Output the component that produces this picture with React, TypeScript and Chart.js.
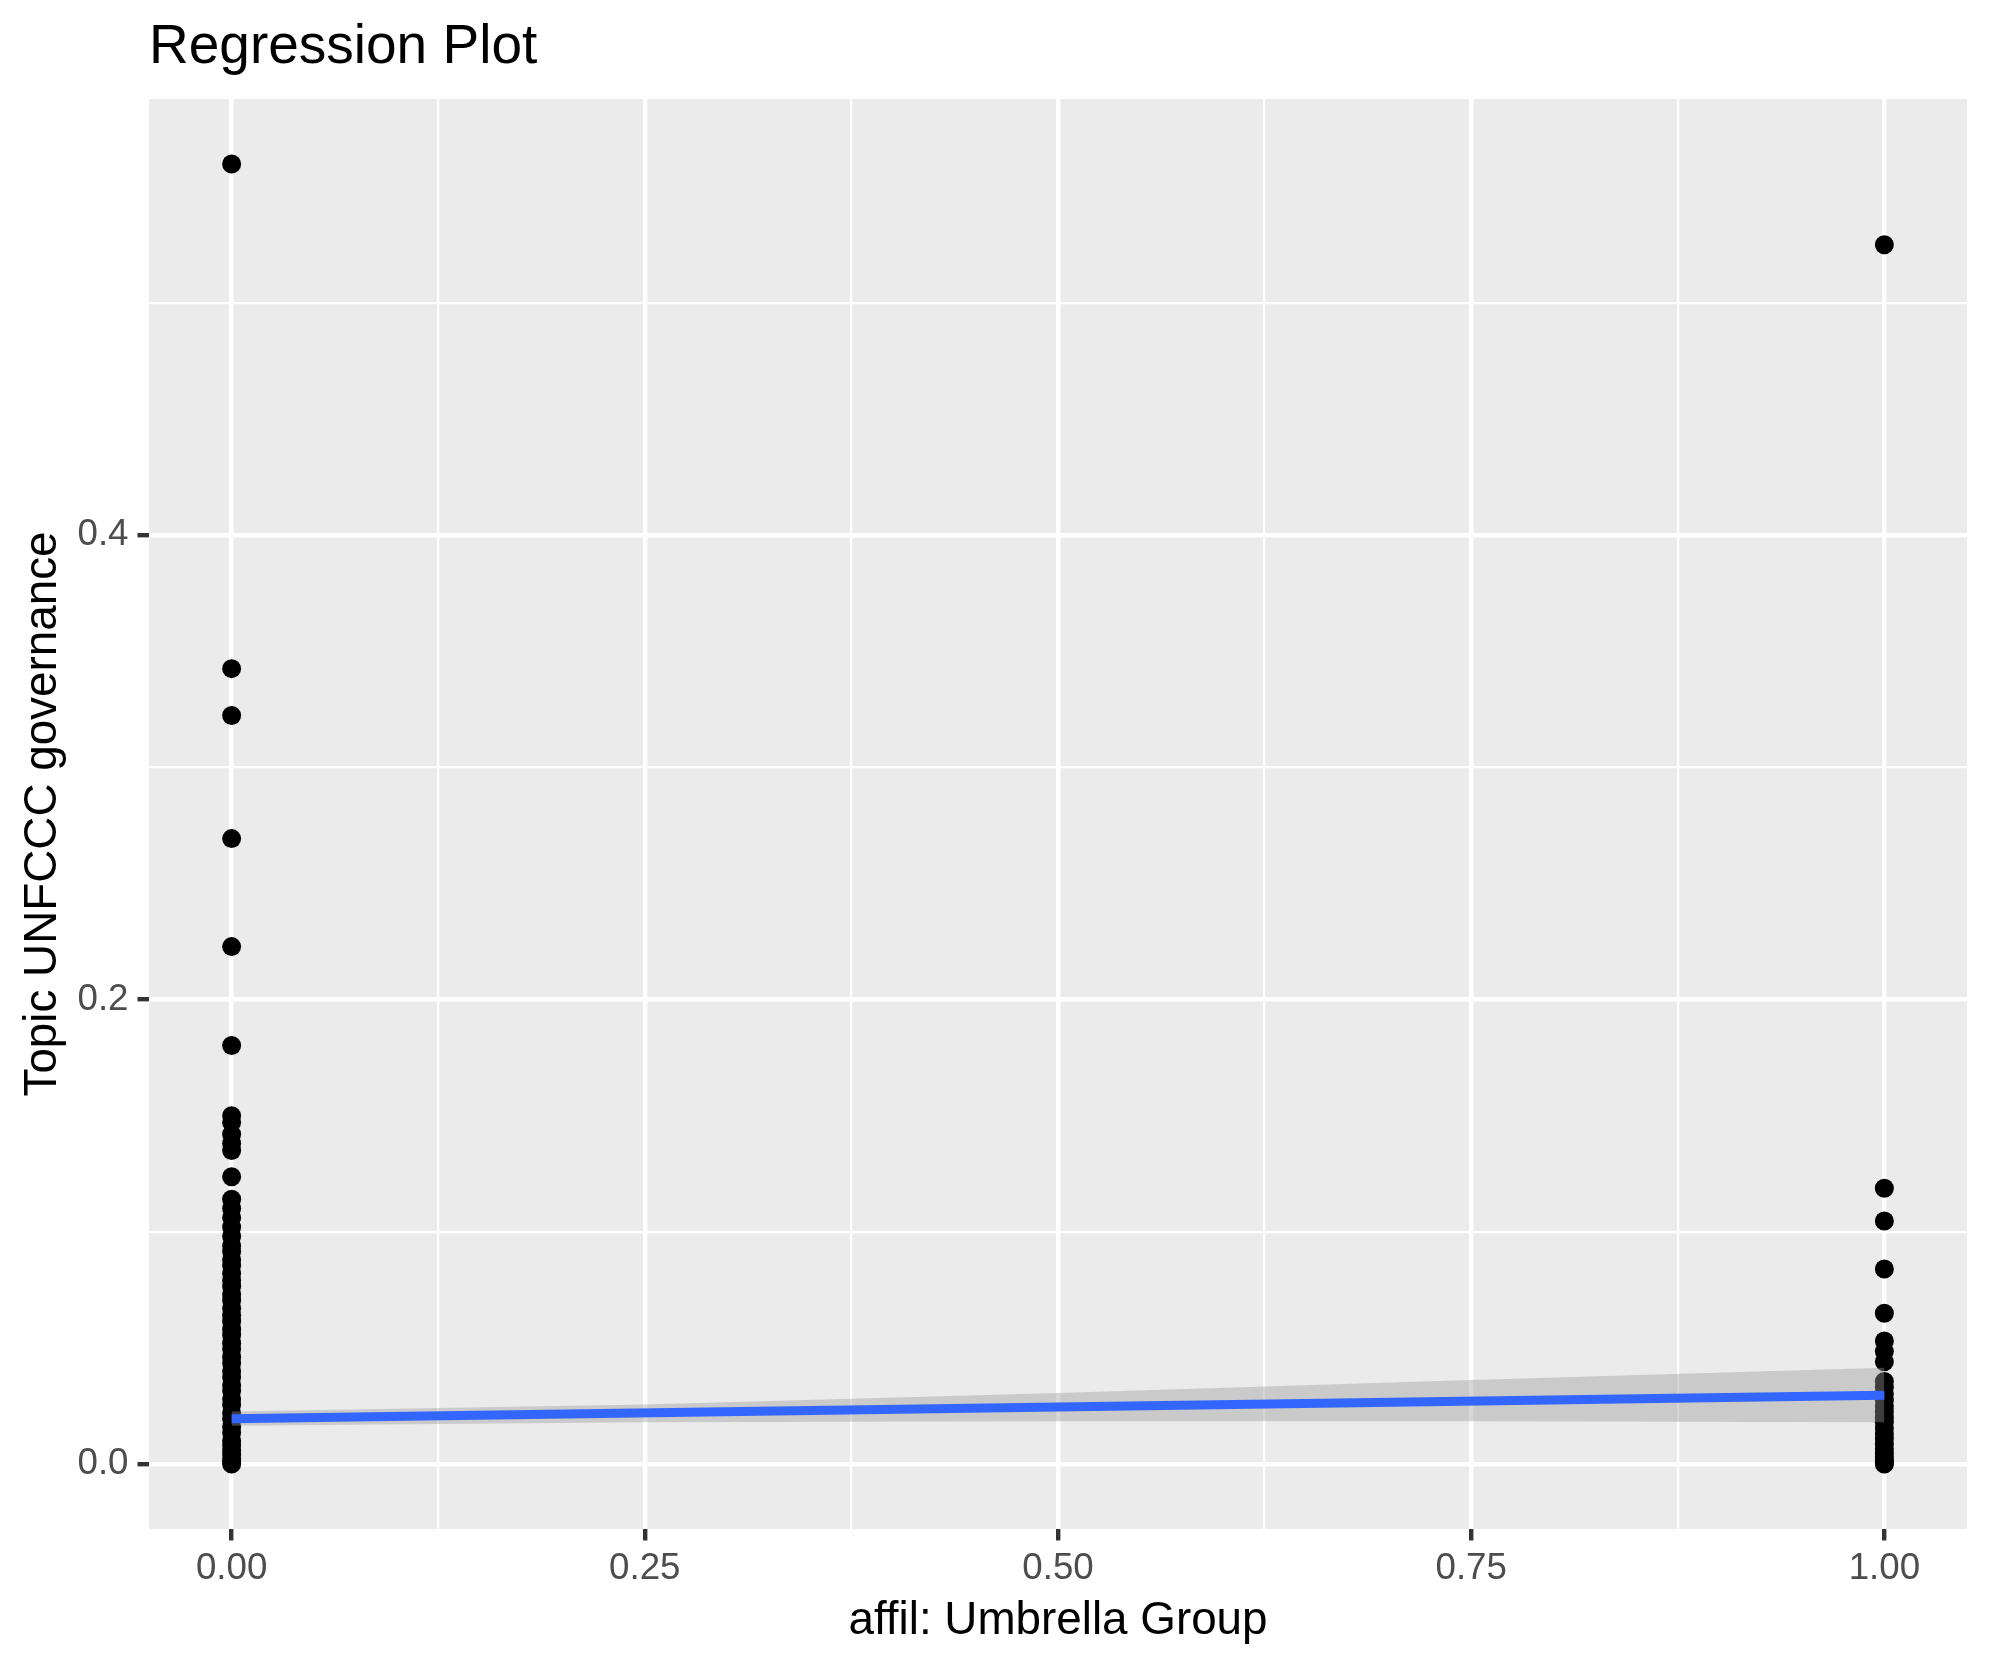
import React, { useEffect, useRef } from 'react';
import { Chart, registerables } from 'chart.js';

Chart.register(...registerables);

// ---- data ----
const groupLevels = [0, 1];
const valuesAtZero = [
  0.5598, 0.3425, 0.3223, 0.2693, 0.2228, 0.1802,
  0.150, 0.147, 0.142, 0.138, 0.135, 0.1237,
  0.114, 0.110, 0.106, 0.102, 0.098,
  0.094, 0.0915, 0.088, 0.0855, 0.082, 0.079, 0.0765, 0.073, 0.0705, 0.067,
  0.064, 0.0615, 0.058, 0.0555, 0.052, 0.0495, 0.046, 0.0435, 0.040, 0.0375,
  0.034, 0.0315, 0.028, 0.0255, 0.022, 0.0195, 0.016, 0.0135, 0.010, 0.0082,
  0.006, 0.0041, 0.0022, 0.001, 0.0,
];
const valuesAtOne = [
  0.525, 0.1187, 0.1046, 0.084, 0.0649, 0.053, 0.0485, 0.044,
  0.0355, 0.033, 0.0302, 0.0275, 0.025, 0.0226, 0.0201, 0.018, 0.0155, 0.013,
  0.011, 0.0085, 0.0065, 0.0045, 0.003, 0.0015, 0.0005, 0.0,
];
const fitX = [0, 1];
const fitY = [0.0195, 0.0296];
const bandX = [0, 0.25, 0.5, 0.75, 1];
const bandLower = [0.0165, 0.018, 0.0184, 0.0184, 0.018];
const bandUpper = [0.0226, 0.0256, 0.0306, 0.0362, 0.0414];

const xMajorTicks = [0, 0.25, 0.5, 0.75, 1];
const xMinorTicks = [0.125, 0.375, 0.625, 0.875];
const xTickLabels = ['0.00', '0.25', '0.50', '0.75', '1.00'];
const yMajorTicks = [0, 0.2, 0.4];
const yMinorTicks = [0.1, 0.3, 0.5];
const yTickLabels = ['0.0', '0.2', '0.4'];

const titleText = 'Regression Plot';
const xTitle = 'affil: Umbrella Group';
const yTitle = 'Topic UNFCCC governance';

const FONT = '"Liberation Sans", Arial, Helvetica, sans-serif';

const isMajor = (list: number[], v: number) => list.some((m) => Math.abs(m - v) < 1e-9);

export default function App() {
  const ref = useRef<HTMLCanvasElement | null>(null);

  useEffect(() => {
    document.body.style.margin = '0';
    const canvas = ref.current;
    if (!canvas) return;

    const points = [
      ...valuesAtZero.map((y) => ({ x: groupLevels[0], y })),
      ...valuesAtOne.map((y) => ({ x: groupLevels[1], y })),
    ];

    const bgPlugin = {
      id: 'panelBg',
      beforeDraw(chart: any) {
        const { ctx, chartArea } = chart;
        ctx.save();
        ctx.fillStyle = '#EBEBEB';
        ctx.fillRect(chartArea.left, chartArea.top, chartArea.right - chartArea.left, chartArea.bottom - chartArea.top);
        ctx.restore();
      },
    };

    const textPlugin = {
      id: 'texts',
      afterDraw(chart: any) {
        const { ctx, chartArea } = chart;
        ctx.save();
        ctx.fillStyle = '#000000';
        ctx.textBaseline = 'alphabetic';
        ctx.font = `55px ${FONT}`;
        ctx.textAlign = 'left';
        ctx.fillText(titleText, chartArea.left, 63);

        ctx.font = `45.8px ${FONT}`;
        ctx.textAlign = 'center';
        ctx.fillText(xTitle, (chartArea.left + chartArea.right) / 2, 1634);

        ctx.translate(56, (chartArea.top + chartArea.bottom) / 2);
        ctx.rotate(-Math.PI / 2);
        ctx.fillText(yTitle, 0, 0);
        ctx.restore();
      },
    };

    const chart = new Chart(canvas, {
      type: 'scatter',
      data: {
        datasets: [
          {
            label: 'points',
            data: points,
            backgroundColor: '#000000',
            borderWidth: 0,
            pointRadius: 9.5,
            pointHoverRadius: 9.5,
            order: 3,
          },
          {
            label: 'upper',
            data: bandX.map((x, i) => ({ x, y: bandUpper[i] })),
            showLine: true,
            borderWidth: 0,
            borderColor: 'rgba(0,0,0,0)',
            pointRadius: 0,
            fill: '+1',
            backgroundColor: 'rgba(153,153,153,0.4)',
            order: 1,
          },
          {
            label: 'lower',
            data: bandX.map((x, i) => ({ x, y: bandLower[i] })),
            showLine: true,
            borderWidth: 0,
            borderColor: 'rgba(0,0,0,0)',
            pointRadius: 0,
            fill: false,
            order: 2,
          },
          {
            label: 'fit',
            data: fitX.map((x, i) => ({ x, y: fitY[i] })),
            showLine: true,
            borderColor: '#3366FF',
            borderWidth: 9,
            borderCapStyle: 'butt',
            pointRadius: 0,
            fill: false,
            order: 0,
          },
        ],
      },
      options: {
        animation: false,
        responsive: false,
        devicePixelRatio: 1,
        events: [],
        layout: { padding: { top: 99, right: 23, bottom: 0, left: 0 } },
        plugins: {
          legend: { display: false },
          tooltip: { enabled: false },
          title: { display: false },
        },
        scales: {
          x: {
            type: 'linear',
            min: -0.05,
            max: 1.05,
            afterBuildTicks: (scale: any) => {
              scale.ticks = [...xMajorTicks, ...xMinorTicks].sort((a, b) => a - b).map((v) => ({ value: v }));
            },
            afterFit: (scale: any) => {
              scale.height = 136;
            },
            border: { display: false },
            grid: {
              color: '#FFFFFF',
              lineWidth: (c: any) => (isMajor(xMajorTicks, c.tick?.value) ? 4.4 : 2.2),
              tickColor: (c: any) => (isMajor(xMajorTicks, c.tick?.value) ? '#333333' : 'rgba(0,0,0,0)'),
              tickWidth: 4.4,
              tickLength: 11.5,
              drawTicks: true,
            },
            ticks: {
              autoSkip: false,
              maxRotation: 0,
              padding: 6,
              color: '#4D4D4D',
              font: { family: FONT, size: 36.7 },
              callback: (v: any) => {
                const i = xMajorTicks.findIndex((m) => Math.abs(m - Number(v)) < 1e-9);
                return i >= 0 ? xTickLabels[i] : '';
              },
            },
          },
          y: {
            type: 'linear',
            min: -0.028,
            max: 0.5878,
            afterBuildTicks: (scale: any) => {
              scale.ticks = [...yMajorTicks, ...yMinorTicks].sort((a, b) => a - b).map((v) => ({ value: v }));
            },
            afterFit: (scale: any) => {
              scale.width = 149;
            },
            border: { display: false },
            grid: {
              color: '#FFFFFF',
              lineWidth: (c: any) => (isMajor(yMajorTicks, c.tick?.value) ? 4.4 : 2.2),
              tickColor: (c: any) => (isMajor(yMajorTicks, c.tick?.value) ? '#333333' : 'rgba(0,0,0,0)'),
              tickWidth: 4.4,
              tickLength: 11.5,
              drawTicks: true,
            },
            ticks: {
              autoSkip: false,
              padding: 9,
              color: '#4D4D4D',
              font: { family: FONT, size: 36.7 },
              callback: (v: any) => {
                const i = yMajorTicks.findIndex((m) => Math.abs(m - Number(v)) < 1e-9);
                return i >= 0 ? yTickLabels[i] : '';
              },
            },
          },
        },
      } as any,
      plugins: [bgPlugin, textPlugin],
    });

    return () => chart.destroy();
  }, []);

  return (
    <div style={{ width: 1990, height: 1665 }}>
      <canvas ref={ref} width={1990} height={1665} style={{ width: 1990, height: 1665, display: 'block' }} />
    </div>
  );
}
